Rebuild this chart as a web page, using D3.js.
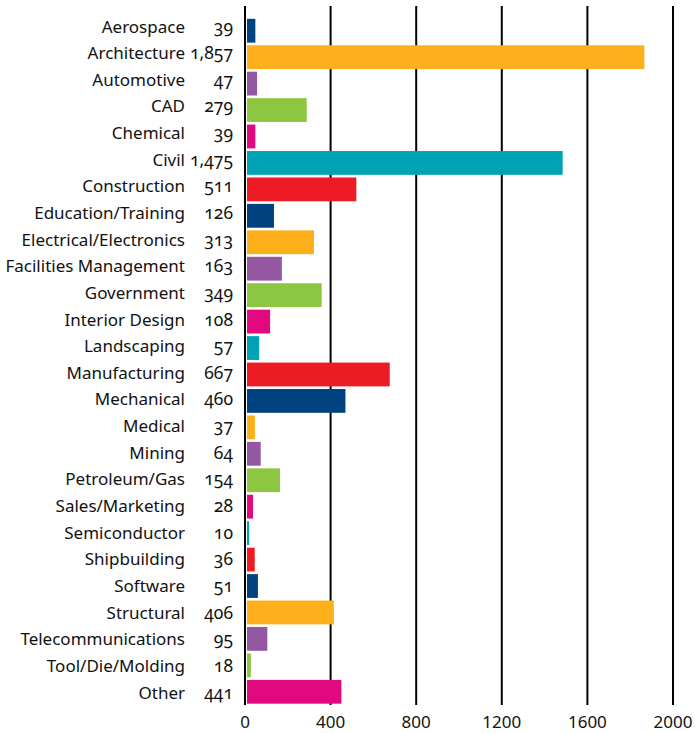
<!DOCTYPE html>
<html>
<head>
<meta charset="utf-8">
<script src="https://cdn.jsdelivr.net/npm/d3@7"></script>
<style>
  body { margin: 0; background: #fff; }
  text { font-family: "Noto Sans", "Open Sans", sans-serif; fill: #111; }
</style>
</head>
<body>
<div id="chart"></div>
<script>
const categories = ["Aerospace", "Architecture", "Automotive", "CAD", "Chemical", "Civil",
  "Construction", "Education/Training", "Electrical/Electronics", "Facilities Management",
  "Government", "Interior Design", "Landscaping", "Manufacturing", "Mechanical", "Medical",
  "Mining", "Petroleum/Gas", "Sales/Marketing", "Semiconductor", "Shipbuilding", "Software",
  "Structural", "Telecommunications", "Tool/Die/Molding", "Other"];
const values = [39, 1857, 47, 279, 39, 1475, 511, 126, 313, 163, 349, 108, 57, 667, 460,
  37, 64, 154, 28, 10, 36, 51, 406, 95, 18, 441];
const palette = ["#00427f", "#fdb01b", "#9457a2", "#8dc641", "#e2097f", "#00a3b5", "#ed1c24"];
const xTicks = [0, 400, 800, 1200, 1600, 2000];

const width = 695, height = 733;

const svg = d3.select("#chart").append("svg")
  .attr("width", width)
  .attr("height", height);

const x = d3.scaleLinear().domain([0, 2000]).range([245, 673]);
const y = d3.scaleBand()
  .domain(categories)
  .range([17.5, 705])
  .paddingInner(0.1)
  .paddingOuter(0.05);
// label baselines run on a slightly longer pitch than the bars
const yLabel = d3.scalePoint()
  .domain(categories)
  .range([32.5, 698.5]);

// gridlines
svg.append("g")
  .selectAll("line")
  .data(xTicks)
  .join("line")
  .attr("x1", d => x(d))
  .attr("x2", d => x(d))
  .attr("y1", 6)
  .attr("y2", 705)
  .attr("stroke", "#000")
  .attr("stroke-width", 2);

// bars
svg.append("g")
  .selectAll("rect")
  .data(categories)
  .join("rect")
  .attr("x", x(0) + 2)
  .attr("y", d => y(d))
  .attr("width", (d, i) => x(values[i]) - x(0))
  .attr("height", y.bandwidth())
  .attr("fill", (d, i) => palette[i % palette.length]);

// category labels
svg.append("g")
  .selectAll("text")
  .data(categories)
  .join("text")
  .attr("x", 185)
  .attr("y", d => yLabel(d))
  .attr("text-anchor", "end")
  .style("font-size", "17px")
  .text(d => d);

// value labels
svg.append("g")
  .selectAll("text")
  .data(values)
  .join("text")
  .attr("x", 233)
  .attr("y", (d, i) => yLabel(categories[i]))
  .attr("text-anchor", "end")
  .style("font-size", "17.5px")
  .style("font-variant-numeric", "oldstyle-nums")
  .text(d => d3.format(",")(d));

// x axis labels
svg.append("g")
  .selectAll("text")
  .data(xTicks)
  .join("text")
  .attr("x", d => x(d))
  .attr("y", 728)
  .attr("text-anchor", "middle")
  .style("font-size", "17px")
  .text(d => d);
</script>
</body>
</html>
